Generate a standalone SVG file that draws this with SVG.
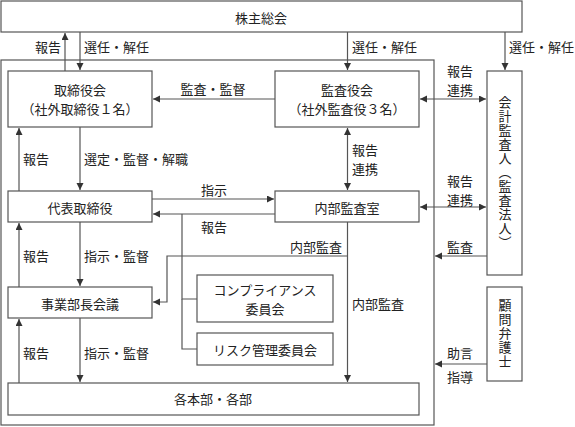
<svg xmlns="http://www.w3.org/2000/svg" width="575" height="427" viewBox="0 0 575 427">
<defs>
<marker id="ah" markerUnits="userSpaceOnUse" markerWidth="8" markerHeight="8" refX="7" refY="3.5" orient="auto-start-reverse">
<path d="M0,0 L7,3.5 L0,7 z" fill="#333"/>
</marker>
<style>
.box{fill:#fff;stroke:#555;stroke-width:1.2}
.frame{fill:none;stroke:#555;stroke-width:1.2}
.t{font-family:"Noto Sans CJK JP","Noto Sans",sans-serif;font-size:13px;fill:#222;text-anchor:middle;dominant-baseline:central}
.l{font-family:"Noto Sans CJK JP","Noto Sans",sans-serif;font-size:13px;fill:#222;dominant-baseline:central}
.v{font-family:"Noto Sans CJK JP","Noto Sans",sans-serif;font-size:13px;fill:#222;writing-mode:vertical-rl;text-anchor:middle;letter-spacing:1px}
.c{fill:none;stroke:#555;stroke-width:1.2}
.a{marker-end:url(#ah)}
.b{marker-start:url(#ah);marker-end:url(#ah)}
</style>
</defs>
<rect class="frame" x="1" y="60" width="433" height="365"/>
<g id="connectors">
<line class="c a" x1="65" y1="71" x2="65" y2="33"/>
<line class="c a" x1="80" y1="32" x2="80" y2="70"/>
<line class="c a" x1="347.5" y1="32" x2="347.5" y2="70"/>
<line class="c a" x1="505" y1="32" x2="505" y2="70"/>
<line class="c a" x1="275" y1="99" x2="153" y2="99"/>
<line class="c b" x1="420" y1="99" x2="486" y2="99"/>
<line class="c a" x1="19" y1="191" x2="19" y2="128"/>
<line class="c a" x1="80" y1="127" x2="80" y2="190"/>
<line class="c b" x1="347.5" y1="128" x2="347.5" y2="190"/>
<line class="c a" x1="152" y1="199" x2="274" y2="199"/>
<line class="c a" x1="275" y1="214" x2="153" y2="214"/>
<polyline class="c" points="197,299 182,299 182,214"/>
<polyline class="c" points="197,349 182,349 182,299"/>
<line class="c b" x1="420" y1="207" x2="486" y2="207"/>
<line class="c a" x1="347.5" y1="222" x2="347.5" y2="382"/>
<polyline class="c a" points="347.5,256 167,256 167,302 153,302"/>
<line class="c a" x1="487" y1="256" x2="435" y2="256"/>
<line class="c a" x1="487" y1="364" x2="435" y2="364"/>
<line class="c a" x1="19" y1="287" x2="19" y2="223"/>
<line class="c a" x1="80" y1="222" x2="80" y2="286"/>
<line class="c a" x1="19" y1="383" x2="19" y2="319"/>
<line class="c a" x1="80" y1="318" x2="80" y2="382"/>
<text class="l" x="35" y="46">報告</text>
<text class="l" x="84" y="46">選任・解任</text>
<text class="l" x="352" y="46">選任・解任</text>
<text class="l" x="509" y="46">選任・解任</text>
<text class="t" x="213" y="88">監査・監督</text>
<text class="t" x="460" y="70.5">報告</text>
<text class="t" x="460" y="89.5">連携</text>
<text class="l" x="23" y="158">報告</text>
<text class="l" x="84" y="158">選定・監督・解職</text>
<text class="l" x="352" y="149">報告</text>
<text class="l" x="352" y="168">連携</text>
<text class="t" x="214" y="189">指示</text>
<text class="t" x="214" y="226">報告</text>
<text class="t" x="460" y="180">報告</text>
<text class="t" x="460" y="199">連携</text>
<text class="l" x="23" y="255">報告</text>
<text class="l" x="84" y="255">指示・監督</text>
<text class="t" x="316" y="246">内部監査</text>
<text class="t" x="460" y="246">監査</text>
<text class="l" x="352" y="303">内部監査</text>
<text class="l" x="23" y="352">報告</text>
<text class="l" x="84" y="352">指示・監督</text>
<text class="t" x="460" y="352">助言</text>
<text class="t" x="460" y="376">指導</text>
</g>
<g id="shareholders"><rect class="box" x="1" y="1" width="521" height="31"/><text class="t" x="261" y="17">株主総会</text></g>
<g id="board"><rect class="box" x="8" y="71" width="144" height="56"/><text class="t" x="80" y="89">取締役会</text><text class="t" x="80" y="108">（社外取締役１名）</text></g>
<g id="auditors"><rect class="box" x="275" y="71" width="144" height="56"/><text class="t" x="347" y="89">監査役会</text><text class="t" x="347" y="108">（社外監査役３名）</text></g>
<g id="accounting-auditor"><rect class="box" x="487" y="71" width="35" height="204"/><text class="v" x="505" y="173">会計監査人（監査法人）</text></g>
<g id="lawyer"><rect class="box" x="487" y="287" width="35" height="94"/><text class="v" x="505" y="334">顧問弁護士</text></g>
<g id="ceo"><rect class="box" x="8" y="191" width="144" height="31"/><text class="t" x="80" y="207">代表取締役</text></g>
<g id="internal-audit"><rect class="box" x="275" y="191" width="144" height="31"/><text class="t" x="347" y="207">内部監査室</text></g>
<g id="division-meeting"><rect class="box" x="8" y="287" width="144" height="31"/><text class="t" x="80" y="303">事業部長会議</text></g>
<g id="compliance"><rect class="box" x="197" y="275" width="136" height="47"/><text class="t" x="265" y="289">コンプライアンス</text><text class="t" x="265" y="308">委員会</text></g>
<g id="risk"><rect class="box" x="197" y="333" width="136" height="32"/><text class="t" x="265" y="349">リスク管理委員会</text></g>
<g id="departments"><rect class="box" x="8" y="383" width="411" height="32"/><text class="t" x="213" y="398">各本部・各部</text></g>
</svg>
